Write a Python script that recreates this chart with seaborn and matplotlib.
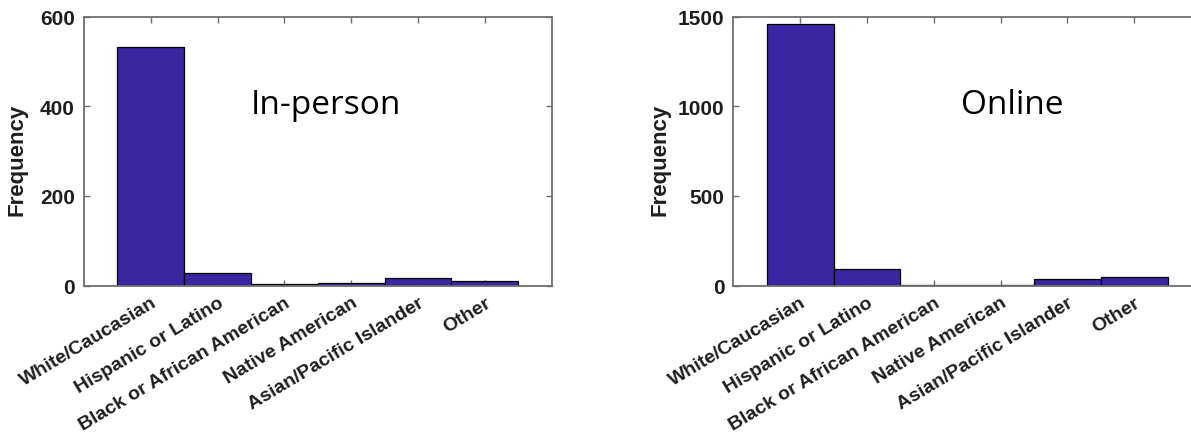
import matplotlib
matplotlib.use("Agg")
import matplotlib.pyplot as plt
import seaborn as sns

categories = ["White/Caucasian", "Hispanic or Latino", "Black or African American",
              "Native American", "Asian/Pacific Islander", "Other"]
inperson_values = [531, 27, 3, 5, 16, 11]
online_values = [1458, 93, 5, 4, 37, 49]
inperson_ticks = [0, 200, 400, 600]
online_ticks = [0, 500, 1000, 1500]

sns.set_style("white")
plt.rcParams['font.family'] = ['Liberation Sans', 'DejaVu Sans']

BAR = "#3a26a2"
SPINE = "#6e6e6e"
TXT = "#1e1e1e"

fig = plt.figure(figsize=(11.91, 4.39), dpi=100)
ax1 = fig.add_axes([84/1191, 1-286.5/439, 467.7/1191, 269/439])
ax2 = fig.add_axes([733.3/1191, 1-286.5/439, 467.7/1191, 269/439])

panels = [
    (ax1, inperson_values, inperson_ticks, "In-person", 0.517, -0.12),
    (ax2, online_values, online_ticks, "Online", 0.596, -0.135),
]

for ax, vals, ticks, label, tx, lx in panels:
    sns.barplot(x=categories, y=vals, ax=ax, color=BAR, saturation=1, width=1.0,
                edgecolor="black", linewidth=0.9)
    ax.set_xlim(-1, 6)
    ax.set_ylim(ticks[0], ticks[-1])
    ax.set_yticks(ticks)
    ax.set_yticklabels([str(t) for t in ticks], fontsize=15, fontweight='bold', color=TXT)
    ax.set_xticks(range(len(categories)))
    ax.set_xticklabels(categories, rotation=31, ha='right', rotation_mode='anchor',
                       fontsize=14, fontweight='bold', color=TXT)
    ax.tick_params(axis='both', direction='in', length=4, width=1.0, color=SPINE,
                   top=True, right=True, bottom=True, left=True)
    ax.tick_params(axis='y', pad=6.5)
    ax.tick_params(axis='x', pad=6)
    for s in ax.spines.values():
        s.set_visible(True)
        s.set_color(SPINE)
        s.set_linewidth(1.3)
    ax.set_ylabel("Frequency", fontsize=16, fontweight='bold', color=TXT)
    ax.yaxis.set_label_coords(lx, 0.47)
    ax.set_xlabel("")
    ax.text(tx, 0.64, label, transform=ax.transAxes, ha='center', va='baseline',
            fontsize=24, family=['Open Sans', 'DejaVu Sans'], color='black')

fig.savefig("out.png", dpi=100)
